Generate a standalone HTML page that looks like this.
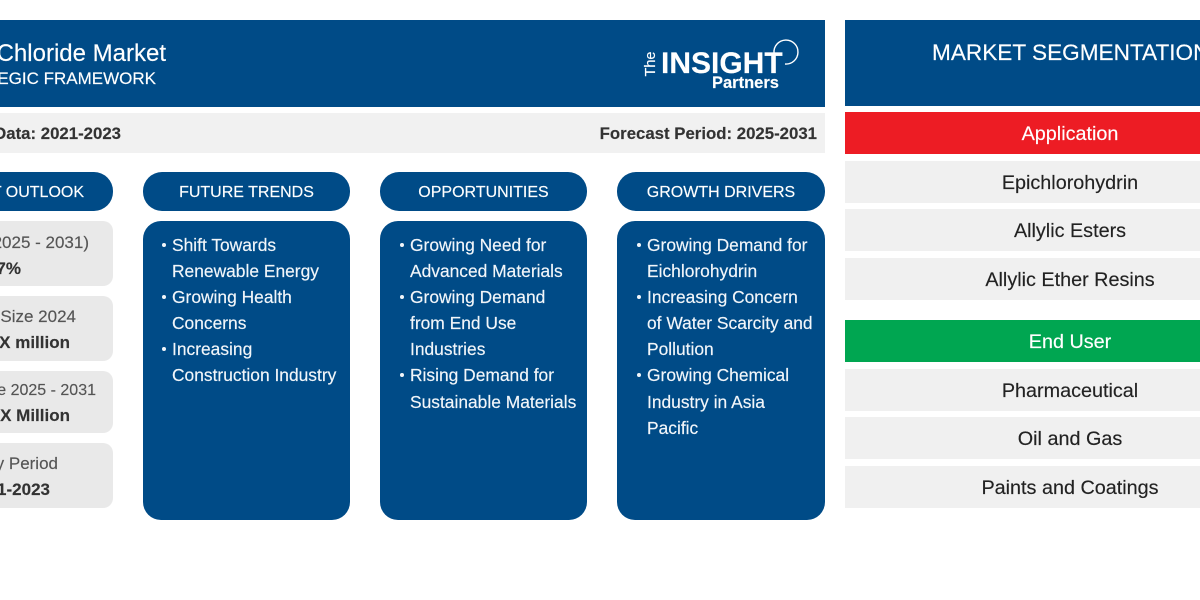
<!DOCTYPE html>
<html lang="en">
<head>
<meta charset="utf-8">
<title>Allyl Chloride Market Strategic Framework</title>
<style>
html,body{margin:0;padding:0;background:#fff}
body{width:1200px;height:600px;overflow:hidden;position:relative;font-family:"Liberation Sans",sans-serif;-webkit-text-stroke:.15px currentColor}
.a{position:absolute;box-sizing:border-box}
.r{position:absolute;left:0;display:flex;justify-content:flex-end;overflow:hidden;white-space:nowrap}
.r span{flex:none}
.blue{background:#004b87}
.pill{top:172px;height:39px;width:207px;border-radius:19px;color:#fff;font-size:16px;line-height:42px;text-align:center;white-space:nowrap}
.panel{top:221px;height:299px;width:207px;border-radius:18px;color:#f2f6fa;font-size:17.4px;line-height:26.1px}
.panel ul{margin:0;padding:11px 0 0 29px;list-style:none}
.panel li{position:relative;white-space:nowrap}
.panel li::before{content:"";position:absolute;left:-10px;top:11px;width:4px;height:4px;border-radius:50%;background:#f2f6fa}
.card{left:0;width:113px;background:#e9e9e9;border-radius:0 10px 10px 0}
.t{font-size:17px;line-height:26px;height:26px;color:#555}
.v{font-size:17px;line-height:26px;height:26px;color:#333;font-weight:700}
.seg{left:845px;width:355px;height:42px;line-height:44px;text-align:center;font-size:19.8px;color:#222;background:#f0f0f0;padding-left:95px;white-space:nowrap}
</style>
</head>
<body>

<div class="a blue" style="left:0;top:20px;width:825px;height:87px"></div>
<div class="r" style="top:39px;width:166px;height:30px;color:#fff;font-size:24px;line-height:30px"><span>Allyl Chloride Market</span></div>
<div class="r" style="top:68px;width:156px;height:22px;color:#fff;font-size:17px;line-height:22px"><span>STRATEGIC FRAMEWORK</span></div>

<div class="a" style="left:640px;top:36px;width:165px;height:60px;color:#fff">
  <div class="a" style="left:-6px;top:21px;width:34px;font-size:14.5px;line-height:14px;text-align:center;transform:rotate(-90deg)">The</div>
  <div class="a" style="left:21px;top:11px;font-size:30px;line-height:34px;font-weight:700;letter-spacing:0;white-space:nowrap">INSIGHT</div>
  <div class="a" style="left:72px;top:38px;font-size:16.5px;line-height:18px;font-weight:700;letter-spacing:0;white-space:nowrap">Partners</div>
  <svg class="a" style="left:128px;top:0;overflow:visible" width="32" height="36" viewBox="0 0 32 36"><path d="M6 17 A12 12 0 1 1 17 28" fill="none" stroke="#fff" stroke-width="1.4"/></svg>
</div>

<div class="a" style="left:0;top:113px;width:825px;height:40px;background:#f1f1f1"></div>
<div class="r" style="top:124px;width:121px;height:20px;font-size:16.8px;line-height:20px;font-weight:700;color:#333"><span>Historical Data: 2021-2023</span></div>
<div class="a" style="right:383px;top:124px;font-size:16.8px;line-height:20px;font-weight:700;color:#333;white-space:nowrap">Forecast Period: 2025-2031</div>

<div class="a blue" style="left:0;top:172px;width:113px;height:39px;border-radius:0 19px 19px 0"></div>
<div class="r" style="top:172px;width:84px;height:39px;color:#fff;font-size:16px;line-height:42px"><span>MARKET OUTLOOK</span></div>
<div class="a blue pill" style="left:143px">FUTURE TRENDS</div>
<div class="a blue pill" style="left:380px">OPPORTUNITIES</div>
<div class="a blue pill" style="left:617px;width:208px">GROWTH DRIVERS</div>

<div class="a card" style="top:221px;height:65px"></div>
<div class="r t" style="top:230px;width:89px"><span>CAGR (2025 - 2031)</span></div>
<div class="r v" style="top:256px;width:21px"><span>7%</span></div>

<div class="a card" style="top:296px;height:65px"></div>
<div class="r t" style="top:304px;width:76px"><span>Market Size 2024</span></div>
<div class="r v" style="top:330px;width:70px"><span>US$ XX million</span></div>

<div class="a card" style="top:371px;height:62px"></div>
<div class="r t" style="top:378px;width:96px;font-size:16px"><span>Market Size 2025 - 2031</span></div>
<div class="r v" style="top:403px;width:70px"><span>US$ XX Million</span></div>

<div class="a card" style="top:443px;height:65px"></div>
<div class="r t" style="top:451px;width:58px"><span>Study Period</span></div>
<div class="r v" style="top:477px;width:50px"><span>2021-2023</span></div>

<div class="a blue panel" style="left:143px">
  <ul>
    <li>Shift Towards<br>Renewable Energy</li>
    <li>Growing Health<br>Concerns</li>
    <li>Increasing<br>Construction Industry</li>
  </ul>
</div>
<div class="a blue panel" style="left:380px">
  <ul style="padding-left:30px">
    <li>Growing Need for<br>Advanced Materials</li>
    <li>Growing Demand<br>from End Use<br>Industries</li>
    <li>Rising Demand for<br>Sustainable Materials</li>
  </ul>
</div>
<div class="a blue panel" style="left:617px;width:208px">
  <ul style="padding-left:30px">
    <li>Growing Demand for<br>Eichlorohydrin</li>
    <li>Increasing Concern<br>of Water Scarcity and<br>Pollution</li>
    <li>Growing Chemical<br>Industry in Asia<br>Pacific</li>
  </ul>
</div>

<div class="a blue" style="left:845px;top:20px;width:355px;height:86px;overflow:hidden;white-space:nowrap;padding:19px 0 0 87px;color:#fff;font-size:22.6px;line-height:28px"><span>MARKET SEGMENTATION</span></div>

<div class="a seg" style="top:112px;background:#ed1c24;color:#fff">Application</div>
<div class="a seg" style="top:161px">Epichlorohydrin</div>
<div class="a seg" style="top:209px">Allylic Esters</div>
<div class="a seg" style="top:258px">Allylic Ether Resins</div>

<div class="a seg" style="top:320px;background:#00a651;color:#fff">End User</div>
<div class="a seg" style="top:369px">Pharmaceutical</div>
<div class="a seg" style="top:417px">Oil and Gas</div>
<div class="a seg" style="top:466px">Paints and Coatings</div>

</body>
</html>
